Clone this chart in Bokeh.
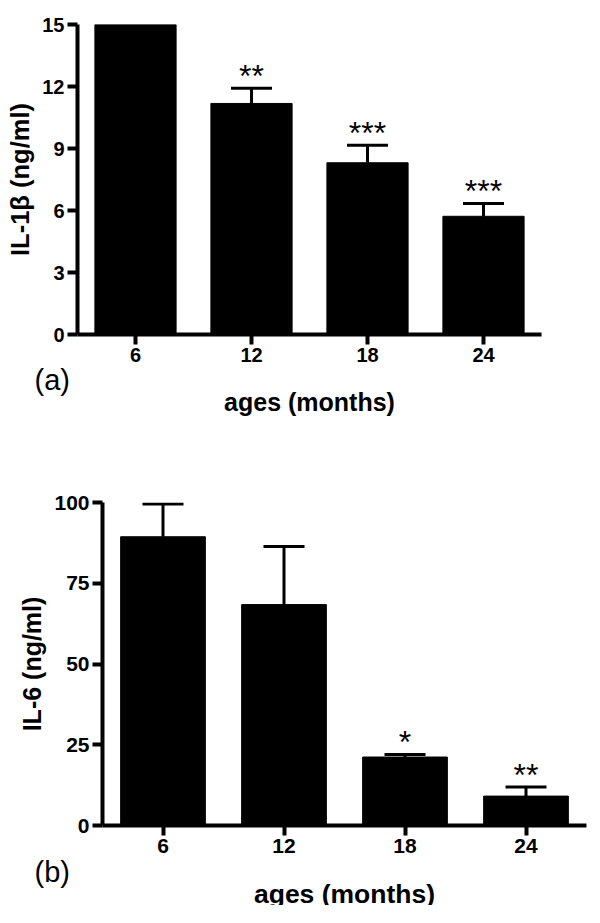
from bokeh.plotting import figure
from bokeh.models import FactorRange, Range1d, FixedTicker, Whisker, TeeHead, ColumnDataSource, Title
from bokeh.layouts import column
from bokeh.embed import file_html
from bokeh.resources import INLINE
from bokeh.core.properties import value

ages = ["6", "12", "18", "24"]
xlabel = "ages (months)"

il1b_mean = [15.0, 11.18, 8.31, 5.72]
il1b_err = [0.0, 0.74, 0.85, 0.62]
il1b_sig = ["", "**", "***", "***"]
il1b_ticks = [0, 3, 6, 9, 12, 15]

il6_mean = [89.4, 68.4, 21.2, 9.1]
il6_err = [10.1, 18.0, 0.8, 2.8]
il6_sig = ["", "", "*", "**"]
il6_ticks = [0, 25, 50, 75, 100]

FONT = "Liberation Sans"


def make_panel(means, errs, sigs, ticks, ymax, ylabel, tag, tag_offset, tag_standoff,
               xlab_standoff, frame_w, frame_h, border_left, border_top, border_bottom,
               border_right, tick_fs, lab_fs, xlab_fs):
    p = figure(x_range=FactorRange(*ages, range_padding=0), y_range=Range1d(0, ymax),
               frame_width=frame_w, frame_height=frame_h,
               min_border_left=border_left, min_border_top=border_top,
               min_border_bottom=border_bottom, min_border_right=border_right,
               output_backend="svg", toolbar_location=None)
    p.outline_line_color = None
    p.xgrid.grid_line_color = None
    p.ygrid.grid_line_color = None

    src = ColumnDataSource(dict(x=ages, top=means,
                                upper=[m + e for m, e in zip(means, errs)],
                                sig=sigs))
    p.vbar(x="x", top="top", width=0.7, source=src, fill_color="black", line_color="black")

    wsrc = ColumnDataSource(dict(
        x=[a for a, e in zip(ages, errs) if e > 0],
        lower=[m for m, e in zip(means, errs) if e > 0],
        upper=[m + e for m, e in zip(means, errs) if e > 0]))
    w = Whisker(base="x", lower="lower", upper="upper", source=wsrc,
                line_width=3, line_color="black", lower_head=None,
                upper_head=TeeHead(size=41, line_width=3, line_color="black"))
    p.add_layout(w)

    p.text(x="x", y="upper", text="sig", source=src, text_align="center",
           text_baseline="middle", y_offset=-12, text_font=value(FONT),
           text_font_size="32px", text_color="black")

    for ax in (p.xaxis[0], p.yaxis[0]):
        ax.axis_line_width = 4
        ax.axis_line_color = "black"
        ax.major_tick_line_width = 4
        ax.major_tick_line_color = "black"
        ax.major_tick_out = 10
        ax.major_tick_in = 0
        ax.minor_tick_line_color = None
        ax.major_label_text_font = FONT
        ax.major_label_text_font_style = "bold"
        ax.major_label_text_font_size = tick_fs
        ax.major_label_text_color = "black"
        ax.axis_label_text_font = FONT
        ax.axis_label_text_font_style = "bold"
        ax.axis_label_text_color = "black"
        ax.major_label_standoff = 3
    p.yaxis[0].axis_label_text_font_size = lab_fs
    p.yaxis[0].axis_label_standoff = 5
    p.yaxis[0].ticker = FixedTicker(ticks=ticks)
    p.yaxis[0].axis_label = ylabel

    # panel tag (left) and x-axis title (centred), stacked under the axis
    t = Title(text=tag, align="left", offset=tag_offset, standoff=tag_standoff,
              vertical_align="top", text_font=FONT, text_font_style="normal",
              text_font_size="29px", text_color="black")
    p.add_layout(t, "below")
    xt = Title(text=xlabel, align="center", standoff=xlab_standoff, vertical_align="top",
               text_font=FONT, text_font_style="bold", text_font_size=xlab_fs,
               text_color="black")
    p.add_layout(xt, "below")
    return p


p1 = make_panel(il1b_mean, il1b_err, il1b_sig, il1b_ticks, 15, "IL-1\u03b2 (ng/ml)", "(a)", -43,
                -1, -20,
                frame_w=464, frame_h=310, border_left=77, border_top=24, border_bottom=110,
                border_right=40, tick_fs="20px", lab_fs="25.5px", xlab_fs="25px")
p2 = make_panel(il6_mean, il6_err, il6_sig, il6_ticks, 100, "IL-6 (ng/ml)", "(b)", -68,
                0, -21,
                frame_w=484, frame_h=323, border_left=102, border_top=58, border_bottom=80,
                border_right=10, tick_fs="21px", lab_fs="25px", xlab_fs="26.5px")

layout = column(column(p1), column(p2), spacing=0)
open("out.html", "w").write(file_html(layout, INLINE))
